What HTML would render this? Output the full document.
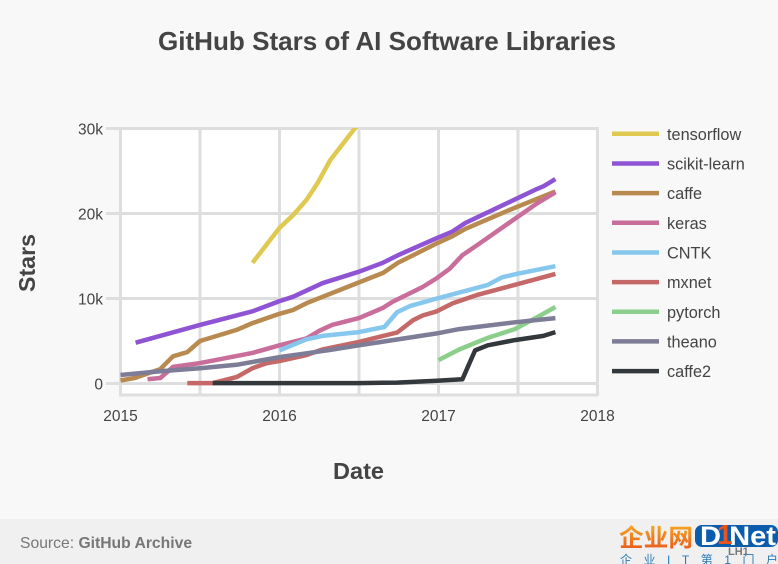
<!DOCTYPE html>
<html lang="en">
<head>
<meta charset="utf-8">
<title>GitHub Stars of AI Software Libraries</title>
<style>
html,body{margin:0;padding:0;background:#f8f8f8;}
body{width:778px;height:564px;overflow:hidden;position:relative;}
svg{display:block;position:absolute;left:0;top:0;font-family:"Liberation Sans","Noto Sans CJK SC",sans-serif;}
</style>
</head>
<body>
<svg id="chart" width="778" height="564" viewBox="0 0 778 564" xmlns="http://www.w3.org/2000/svg">
  <defs>
    <clipPath id="plot-clip"><rect x="120" y="128" width="477" height="267"></rect></clipPath>
    <linearGradient id="logo-orange" x1="0" y1="0" x2="0" y2="1"><stop offset="0" stop-color="#f5a623"></stop><stop offset="1" stop-color="#e8541a"></stop></linearGradient>
  </defs>
  <rect x="0" y="0" width="778" height="564" fill="#f8f8f8"></rect>
  <rect x="0" y="519" width="778" height="45" fill="#f0f0f0"></rect>
  <text x="387" y="50" text-anchor="middle" font-size="26" font-weight="700" fill="#444" textLength="458" lengthAdjust="spacingAndGlyphs">GitHub Stars of AI Software Libraries</text>
  <rect x="120" y="128" width="477" height="267" fill="#fff"></rect>
  <g id="grid"></g>
  <g id="ticks"></g>
  <g id="series" clip-path="url(#plot-clip)"></g>
  <g id="legend"></g>
  <text transform="translate(35,263) rotate(-90)" text-anchor="middle" font-size="23" font-weight="700" fill="#444" textLength="58" lengthAdjust="spacingAndGlyphs">Stars</text>
  <text x="358.5" y="479" text-anchor="middle" font-size="23" font-weight="700" fill="#444" textLength="51" lengthAdjust="spacingAndGlyphs">Date</text>
  <text x="20" y="548" font-size="15.7" fill="#777">Source: <tspan font-weight="700">GitHub Archive</tspan></text>
  <g>
    <text x="619" y="546" font-size="24" font-weight="700" fill="url(#logo-orange)" textLength="74" lengthAdjust="spacingAndGlyphs">企业网</text>
    <rect x="695" y="525" width="83" height="22" rx="7" fill="#0b5cad"></rect>
    <text x="700" y="545" font-size="27" font-weight="700" fill="#fff" textLength="76" lengthAdjust="spacingAndGlyphs">D Net</text>
    <text x="717" y="544" font-size="28" font-weight="700" fill="#e8541a">1</text>
    <text x="728" y="555" font-size="11" font-weight="700" fill="#777">LH1</text>
    <text x="620" y="564" font-size="12" fill="#2a7ab8" textLength="158" lengthAdjust="spacing">企业IT第1门户</text>
  </g>
</svg>
<script>
var xTicks = [2015, 2016, 2017, 2018];
var xGrid = [2015, 2015.5, 2016, 2016.5, 2017, 2017.5, 2018];
var yTicks = [0, 10, 20, 30];
var yTickLabels = ['0', '10k', '20k', '30k'];

var seriesNames = ['tensorflow', 'scikit-learn', 'caffe', 'keras', 'CNTK', 'mxnet', 'pytorch', 'theano', 'caffe2'];
var seriesColors = ['#dfc950', '#8e54d4', '#b98a50', '#c96e9a', '#86c7ee', '#c46868', '#8ccf8c', '#7d7d98', '#33383c'];

var tensorflowDates = [2015.83, 2016, 2016.085, 2016.17, 2016.24, 2016.32, 2016.475, 2016.5];
var tensorflowStars = [14.2, 18.3, 19.8, 21.6, 23.6, 26.3, 30.05, 30.6];
var scikitDates = [2015.095, 2015.5, 2015.83, 2016, 2016.085, 2016.27, 2016.5, 2016.65, 2016.745, 2016.99, 2017.085, 2017.17, 2017.62, 2017.66, 2017.735];
var scikitStars = [4.8, 6.9, 8.5, 9.7, 10.2, 11.8, 13.15, 14.2, 15.1, 17.1, 17.85, 18.9, 22.9, 23.2, 24.05];
var caffeDates = [2015, 2015.09, 2015.25, 2015.33, 2015.42, 2015.5, 2015.73, 2015.83, 2016, 2016.085, 2016.17, 2016.5, 2016.65, 2016.745, 2016.99, 2017.085, 2017.17, 2017.47, 2017.735];
var caffeStars = [0.35, 0.65, 1.7, 3.2, 3.7, 5, 6.3, 7.1, 8.2, 8.65, 9.45, 11.9, 13, 14.2, 16.5, 17.3, 18.2, 20.6, 22.6];
var kerasDates = [2015.17, 2015.25, 2015.33, 2015.5, 2015.83, 2016, 2016.17, 2016.25, 2016.33, 2016.5, 2016.65, 2016.71, 2016.9, 2016.99, 2017.07, 2017.15, 2017.26, 2017.62, 2017.735];
var kerasStars = [0.5, 0.65, 1.95, 2.4, 3.6, 4.5, 5.3, 6.2, 6.9, 7.7, 8.9, 9.6, 11.35, 12.4, 13.5, 15.1, 16.5, 21.2, 22.5];
var cntkDates = [2016, 2016.17, 2016.27, 2016.5, 2016.66, 2016.74, 2016.82, 2016.99, 2017.31, 2017.4, 2017.49, 2017.735];
var cntkStars = [3.9, 5.2, 5.6, 6.05, 6.65, 8.4, 9.1, 10, 11.6, 12.5, 12.9, 13.8];
var mxnetDates = [2015.42, 2015.58, 2015.73, 2015.83, 2015.92, 2016, 2016.17, 2016.27, 2016.5, 2016.74, 2016.84, 2016.9, 2016.99, 2017.09, 2017.24, 2017.735];
var mxnetStars = [0.05, 0.05, 0.75, 1.8, 2.4, 2.65, 3.35, 4, 4.9, 6, 7.45, 8, 8.5, 9.45, 10.4, 12.9];
var pytorchDates = [2017, 2017.13, 2017.3, 2017.48, 2017.64, 2017.735];
var pytorchStars = [2.75, 4, 5.3, 6.4, 8, 9];
var theanoDates = [2015, 2015.25, 2015.5, 2015.73, 2016, 2016.17, 2016.32, 2016.5, 2016.99, 2017.13, 2017.48, 2017.735];
var theanoStars = [1, 1.45, 1.8, 2.2, 3.1, 3.55, 3.95, 4.5, 5.9, 6.4, 7.2, 7.7];
var caffe2Dates = [2015.58, 2016.5, 2016.74, 2016.99, 2017.15, 2017.23, 2017.31, 2017.48, 2017.66, 2017.735];
var caffe2Stars = [0.05, 0.05, 0.1, 0.33, 0.5, 3.9, 4.5, 5.1, 5.6, 6.05];

var allDates = [tensorflowDates, scikitDates, caffeDates, kerasDates, cntkDates, mxnetDates, pytorchDates, theanoDates, caffe2Dates];
var allStars = [tensorflowStars, scikitStars, caffeStars, kerasStars, cntkStars, mxnetStars, pytorchStars, theanoStars, caffe2Stars];

var NS = 'http://www.w3.org/2000/svg';
function xScale(year) { return 120.5 + (year - 2015) * 159; }
function yScale(k) { return 383.5 - k * 8.5; }
function make(tag, parent, attrs, text) {
  var el = document.createElementNS(NS, tag);
  for (var key in attrs) { el.setAttribute(key, attrs[key]); }
  if (text !== undefined) { el.textContent = text; }
  parent.appendChild(el);
  return el;
}

var grid = document.getElementById('grid');
var ticks = document.getElementById('ticks');
var seriesGroup = document.getElementById('series');
var legend = document.getElementById('legend');

xGrid.forEach(function (v) {
  var line = make('line', grid, { x1: xScale(v), x2: xScale(v), y1: 127, y2: 396, stroke: '#dedede', 'stroke-width': 3 });
  
  
});
yTicks.forEach(function (v, i) {
  var line = make('line', grid, { x1: 106, x2: 598, y1: yScale(v), y2: yScale(v), stroke: '#dedede', 'stroke-width': 3 });
  
  
  var label = make('text', ticks, { x: 103, y: yScale(v) + 6, 'text-anchor': 'end', 'font-size': 15.5, fill: '#444' }, yTickLabels[i]);
  
  
});
var bottomAxis = make('line', grid, { x1: 119, x2: 598, y1: 395, y2: 395, stroke: '#dedede', 'stroke-width': 3 });


xTicks.forEach(function (v) {
  var label = make('text', ticks, { x: xScale(v), y: 421, 'text-anchor': 'middle', 'font-size': 15.5, fill: '#444' }, String(v));
  
  
});

seriesNames.forEach(function (name, i) {
  var points = allDates[i].map(function (d, j) {
    return xScale(d).toFixed(1) + ',' + yScale(allStars[i][j]).toFixed(1);
  }).join(' ');
  var line = make('polyline', seriesGroup, { points: points, fill: 'none', stroke: seriesColors[i], 'stroke-width': 4.5, 'stroke-linejoin': 'round' });
  
  

  var rowY = 133.8 + i * 29.66;
  var swatch = make('line', legend, { x1: 612, x2: 659, y1: rowY, y2: rowY, stroke: seriesColors[i], 'stroke-width': 4.5 });
  
  
  var label = make('text', legend, { x: 667, y: rowY + 6, 'font-size': 16.3, fill: '#444' }, name);
  
  
});
</script>
</body>
</html>
